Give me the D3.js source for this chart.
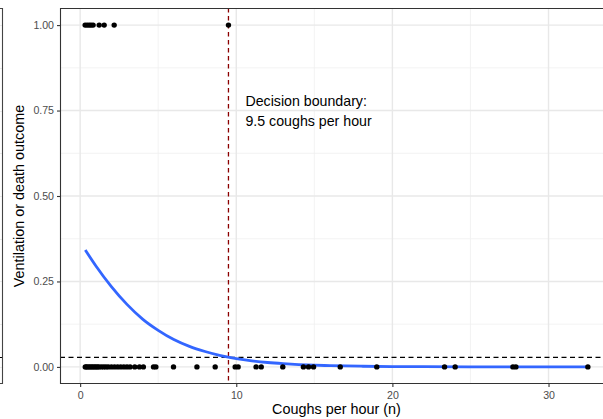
<!DOCTYPE html>
<html>
<head>
<meta charset="utf-8">
<script src="https://cdn.jsdelivr.net/npm/d3@7"></script>
<style>
  html, body { margin: 0; padding: 0; background: #fff; }
  svg { display: block; font-family: "Liberation Sans", Arial, Helvetica, sans-serif; }
</style>
</head>
<body>
<svg id="chart" width="603" height="419"></svg>
<script>
// Observed coughs per hour for patients with the outcome (1) and without it (0)
const coughsOutcome = [0.32, 0.45, 0.58, 0.7, 0.83, 1.22, 1.54, 2.18, 9.5];
const coughsNoOutcome = [
  0.33, 0.4, 0.5, 0.6, 0.7, 0.8, 0.9, 1.0, 1.1, 1.2, 1.35, 1.5, 1.65, 1.8,
  2.0, 2.2, 2.4, 2.6, 2.8, 3.0, 3.2, 3.5, 3.8, 4.05, 4.7, 4.85,
  5.98, 7.48, 8.65, 9.93, 10.12, 11.27, 11.6, 12.98, 14.3, 14.63, 14.95,
  16.66, 19.0, 23.34, 24.02, 27.72, 27.91, 32.52
];

// Fitted probability of the outcome along the cough range
const curveX = [0.33, 1, 2, 3, 4, 5, 6, 7, 8, 9, 10, 11, 12, 13, 14, 15, 16, 18, 20, 22, 25, 28, 32.52];
const curveP = [0.342, 0.296, 0.235, 0.183, 0.140, 0.107, 0.080, 0.060, 0.045, 0.033, 0.024,
                0.0176, 0.0129, 0.0095, 0.0069, 0.0051, 0.0037, 0.0020, 0.0011, 0.0006, 0.0002, 0.0001, 0.0];

// Reference lines: outcome prevalence and the decision boundary
const prevalence = 0.028;
const boundary = 9.5;
const annotationLines = ["Decision boundary:", "9.5 coughs per hour"];

const xMajor = [0, 10, 20, 30];
const xMinor = [5, 15, 25];
const yMajor = [0, 0.25, 0.5, 0.75, 1];
const yMinor = [0.125, 0.375, 0.625, 0.875];

const svg = d3.select("#chart");
const panel = { left: 60, right: 613, top: 8, bottom: 384 };

const allX = coughsOutcome.concat(coughsNoOutcome);
const [xMin, xMax] = d3.extent(allX);
const xPad = (xMax - xMin) * 0.05;
const x = d3.scaleLinear().domain([xMin - xPad, xMax + xPad]).range([panel.left, panel.right]);
const y = d3.scaleLinear().domain([-0.05, 1.05]).range([panel.bottom, panel.top]);

// Edge of the adjacent panel at the far left
const edge = svg.append("g");
yMajor.concat(yMinor).forEach(v => {
  edge.append("line").attr("x1", 0).attr("x2", 2.5)
    .attr("y1", Math.round(y(v)) + 0.5).attr("y2", Math.round(y(v)) + 0.5)
    .attr("stroke", "#ebebeb").attr("stroke-width", 1);
});
edge.append("line").attr("x1", 0).attr("x2", 2.5).attr("y1", 357.5).attr("y2", 357.5)
  .attr("stroke", "#000").attr("stroke-width", 1);
edge.append("path").attr("d", `M0,${panel.top + 0.5}H2.5V${panel.bottom - 0.5}H0`)
  .attr("fill", "none").attr("stroke", "#444").attr("stroke-width", 1.1);

svg.append("defs").append("clipPath").attr("id", "clip")
  .append("rect").attr("x", panel.left).attr("y", panel.top)
  .attr("width", panel.right - panel.left).attr("height", panel.bottom - panel.top);

const plot = svg.append("g").attr("clip-path", "url(#clip)");

// Grid
plot.selectAll(".xminor").data(xMinor).join("line")
  .attr("x1", d => x(d)).attr("x2", d => x(d)).attr("y1", panel.top).attr("y2", panel.bottom)
  .attr("stroke", "#f0f0f0").attr("stroke-width", 0.8);
plot.selectAll(".yminor").data(yMinor).join("line")
  .attr("y1", d => y(d)).attr("y2", d => y(d)).attr("x1", panel.left).attr("x2", panel.right)
  .attr("stroke", "#f0f0f0").attr("stroke-width", 0.8);
plot.selectAll(".xmajor").data(xMajor).join("line")
  .attr("x1", d => x(d)).attr("x2", d => x(d)).attr("y1", panel.top).attr("y2", panel.bottom)
  .attr("stroke", "#e8e8e8").attr("stroke-width", 1.4);
plot.selectAll(".ymajor").data(yMajor).join("line")
  .attr("y1", d => y(d)).attr("y2", d => y(d)).attr("x1", panel.left).attr("x2", panel.right)
  .attr("stroke", "#e8e8e8").attr("stroke-width", 1.4);

// Prevalence line
plot.append("line")
  .attr("x1", panel.left).attr("x2", panel.right)
  .attr("y1", y(prevalence)).attr("y2", y(prevalence))
  .attr("stroke", "#000").attr("stroke-width", 1.1).attr("stroke-dasharray", "5,3.5");

// Decision boundary
plot.append("line")
  .attr("x1", x(boundary)).attr("x2", x(boundary))
  .attr("y1", panel.top).attr("y2", panel.bottom)
  .attr("stroke", "#8b0000").attr("stroke-width", 1.3).attr("stroke-dasharray", "4.5,3.5");

// Fitted curve
const curve = curveX.map((v, i) => [v, curveP[i]]);
plot.append("path").datum(curve)
  .attr("d", d3.line().x(d => x(d[0])).y(d => y(d[1])).curve(d3.curveMonotoneX))
  .attr("fill", "none").attr("stroke", "#3366ff").attr("stroke-width", 2.8);

// Observations
plot.selectAll(".p1").data(coughsOutcome).join("circle")
  .attr("cx", d => x(d)).attr("cy", y(1)).attr("r", 2.7).attr("fill", "#000");
plot.selectAll(".p0").data(coughsNoOutcome).join("circle")
  .attr("cx", d => x(d)).attr("cy", y(0)).attr("r", 2.7).attr("fill", "#000");

// Annotation
const ann = svg.append("text").attr("x", x(boundary) + 17).attr("y", 105.5)
  .attr("font-size", "14.2px").attr("fill", "#000");
annotationLines.forEach((t, i) => {
  ann.append("tspan").attr("x", x(boundary) + 17).attr("dy", i === 0 ? 0 : 20.5).text(t);
});

// Panel border
svg.append("path")
  .attr("d", `M${panel.right + 2},${panel.top + 0.5}H${panel.left + 0.5}V${panel.bottom - 0.5}H${panel.right + 2}`)
  .attr("fill", "none").attr("stroke", "#333").attr("stroke-width", 1.1);

// Axes
const xAxis = svg.append("g").attr("transform", `translate(0,${panel.bottom})`)
  .call(d3.axisBottom(x).tickValues(xMajor).tickFormat(d3.format("d")).tickSize(3).tickPadding(4));
const yAxis = svg.append("g").attr("transform", `translate(${panel.left},0)`)
  .call(d3.axisLeft(y).tickValues(yMajor).tickFormat(d3.format(".2f")).tickSize(3).tickPadding(3));
[xAxis, yAxis].forEach(a => {
  a.select(".domain").remove();
  a.selectAll(".tick line").attr("stroke", "#333").attr("stroke-width", 1.1);
  a.selectAll(".tick text").attr("fill", "#4d4d4d").attr("font-size", "10.6px")
    .attr("font-family", "'Liberation Sans', Arial, sans-serif");
});

// Axis titles
svg.append("text").attr("x", (panel.left + panel.right) / 2).attr("y", 414)
  .attr("text-anchor", "middle").attr("font-size", "14.4px").attr("fill", "#000")
  .text("Coughs per hour (n)");
svg.append("text")
  .attr("transform", `translate(24,${(panel.top + panel.bottom) / 2}) rotate(-90)`)
  .attr("text-anchor", "middle").attr("font-size", "14.4px").attr("fill", "#000")
  .text("Ventilation or death outcome");
</script>
</body>
</html>
